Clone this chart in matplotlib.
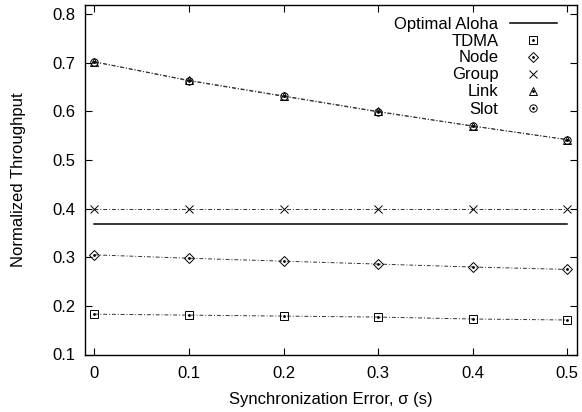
import matplotlib
matplotlib.use("Agg")
import matplotlib.pyplot as plt
import numpy as np

plt.rcParams['font.family'] = ['Liberation Sans', 'DejaVu Sans']

sigma = [0.0, 0.1, 0.2, 0.3, 0.4, 0.5]
optimal_aloha = [0.3679, 0.3679, 0.3679, 0.3679, 0.3679, 0.3679]
tdma = [0.183, 0.181, 0.179, 0.177, 0.173, 0.171]
node = [0.305, 0.298, 0.292, 0.286, 0.280, 0.275]
group = [0.399, 0.399, 0.399, 0.399, 0.399, 0.399]
link = [0.702, 0.664, 0.632, 0.600, 0.570, 0.542]
slot = [0.702, 0.663, 0.631, 0.599, 0.570, 0.542]

xticks = [0, 0.1, 0.2, 0.3, 0.4, 0.5]
xticklabels = ['0', '0.1', '0.2', '0.3', '0.4', '0.5']
yticks = [0.1, 0.2, 0.3, 0.4, 0.5, 0.6, 0.7, 0.8]
yticklabels = ['0.1', '0.2', '0.3', '0.4', '0.5', '0.6', '0.7', '0.8']

fs = 12

fig = plt.figure(figsize=(5.82, 4.12), dpi=100)
ax = fig.add_axes([85/582, 1 - 354.5/412, (576.7-85)/582, (354.5-4.5)/412])

ls = (0, (4, 2, 1, 2))
lc = '0.2'
lw = 0.7
ms = 5.3
mew = 0.7

h_opt, = ax.plot(sigma, optimal_aloha, color='black', lw=1.1, ls='-')

handles = [h_opt]
specs = [(tdma, 's', True), (node, 'D', True), (group, 'x', False),
         (link, '^', True), (slot, 'o', True)]
for vals, mk, dot in specs:
    msize = 5.2 if mk == 'D' else (ms + 0.7 if mk == 'x' else ms)
    h, = ax.plot(sigma, vals, color=lc, lw=lw, ls=ls, marker=mk, markersize=msize,
                 markerfacecolor='none', markeredgecolor='black', markeredgewidth=mew)
    dh, = ax.plot([], [], ls='none', marker=mk, markersize=msize,
                  markerfacecolor='none', markeredgecolor='black', markeredgewidth=mew)
    if dot:
        hd, = ax.plot(sigma, vals, ls='none', marker='o', markersize=1.0,
                      color='black')
        handles.append((dh, hd))
    else:
        handles.append(dh)

labels = ['Optimal Aloha', 'TDMA', 'Node', 'Group', 'Link', 'Slot']

ax.set_xlim(-0.01, 0.51)
ax.set_ylim(0.1, 0.82)
ax.set_xticks(xticks)
ax.set_xticklabels(xticklabels)
ax.set_yticks(yticks)
ax.set_yticklabels(yticklabels)
ax.tick_params(direction='in', top=True, right=True, length=5, width=0.8,
               labelsize=fs, pad=7)
ax.tick_params(axis='x', pad=8.5)
for s in ax.spines.values():
    s.set_linewidth(1.0)

ax.set_xlabel('Synchronization Error, σ (s)', fontsize=fs, labelpad=8)
ax.set_ylabel('Normalized Throughput', fontsize=fs, labelpad=19)

leg = ax.legend(handles, labels, loc='upper right', frameon=False, markerfirst=False,
                fontsize=fs, handlelength=2.8, handletextpad=0.7,
                labelspacing=0.12, borderaxespad=0.9, borderpad=0.3,
                bbox_to_anchor=(1.0, 1.0 + 8/350.0))

fig.savefig('out.png', dpi=100)
